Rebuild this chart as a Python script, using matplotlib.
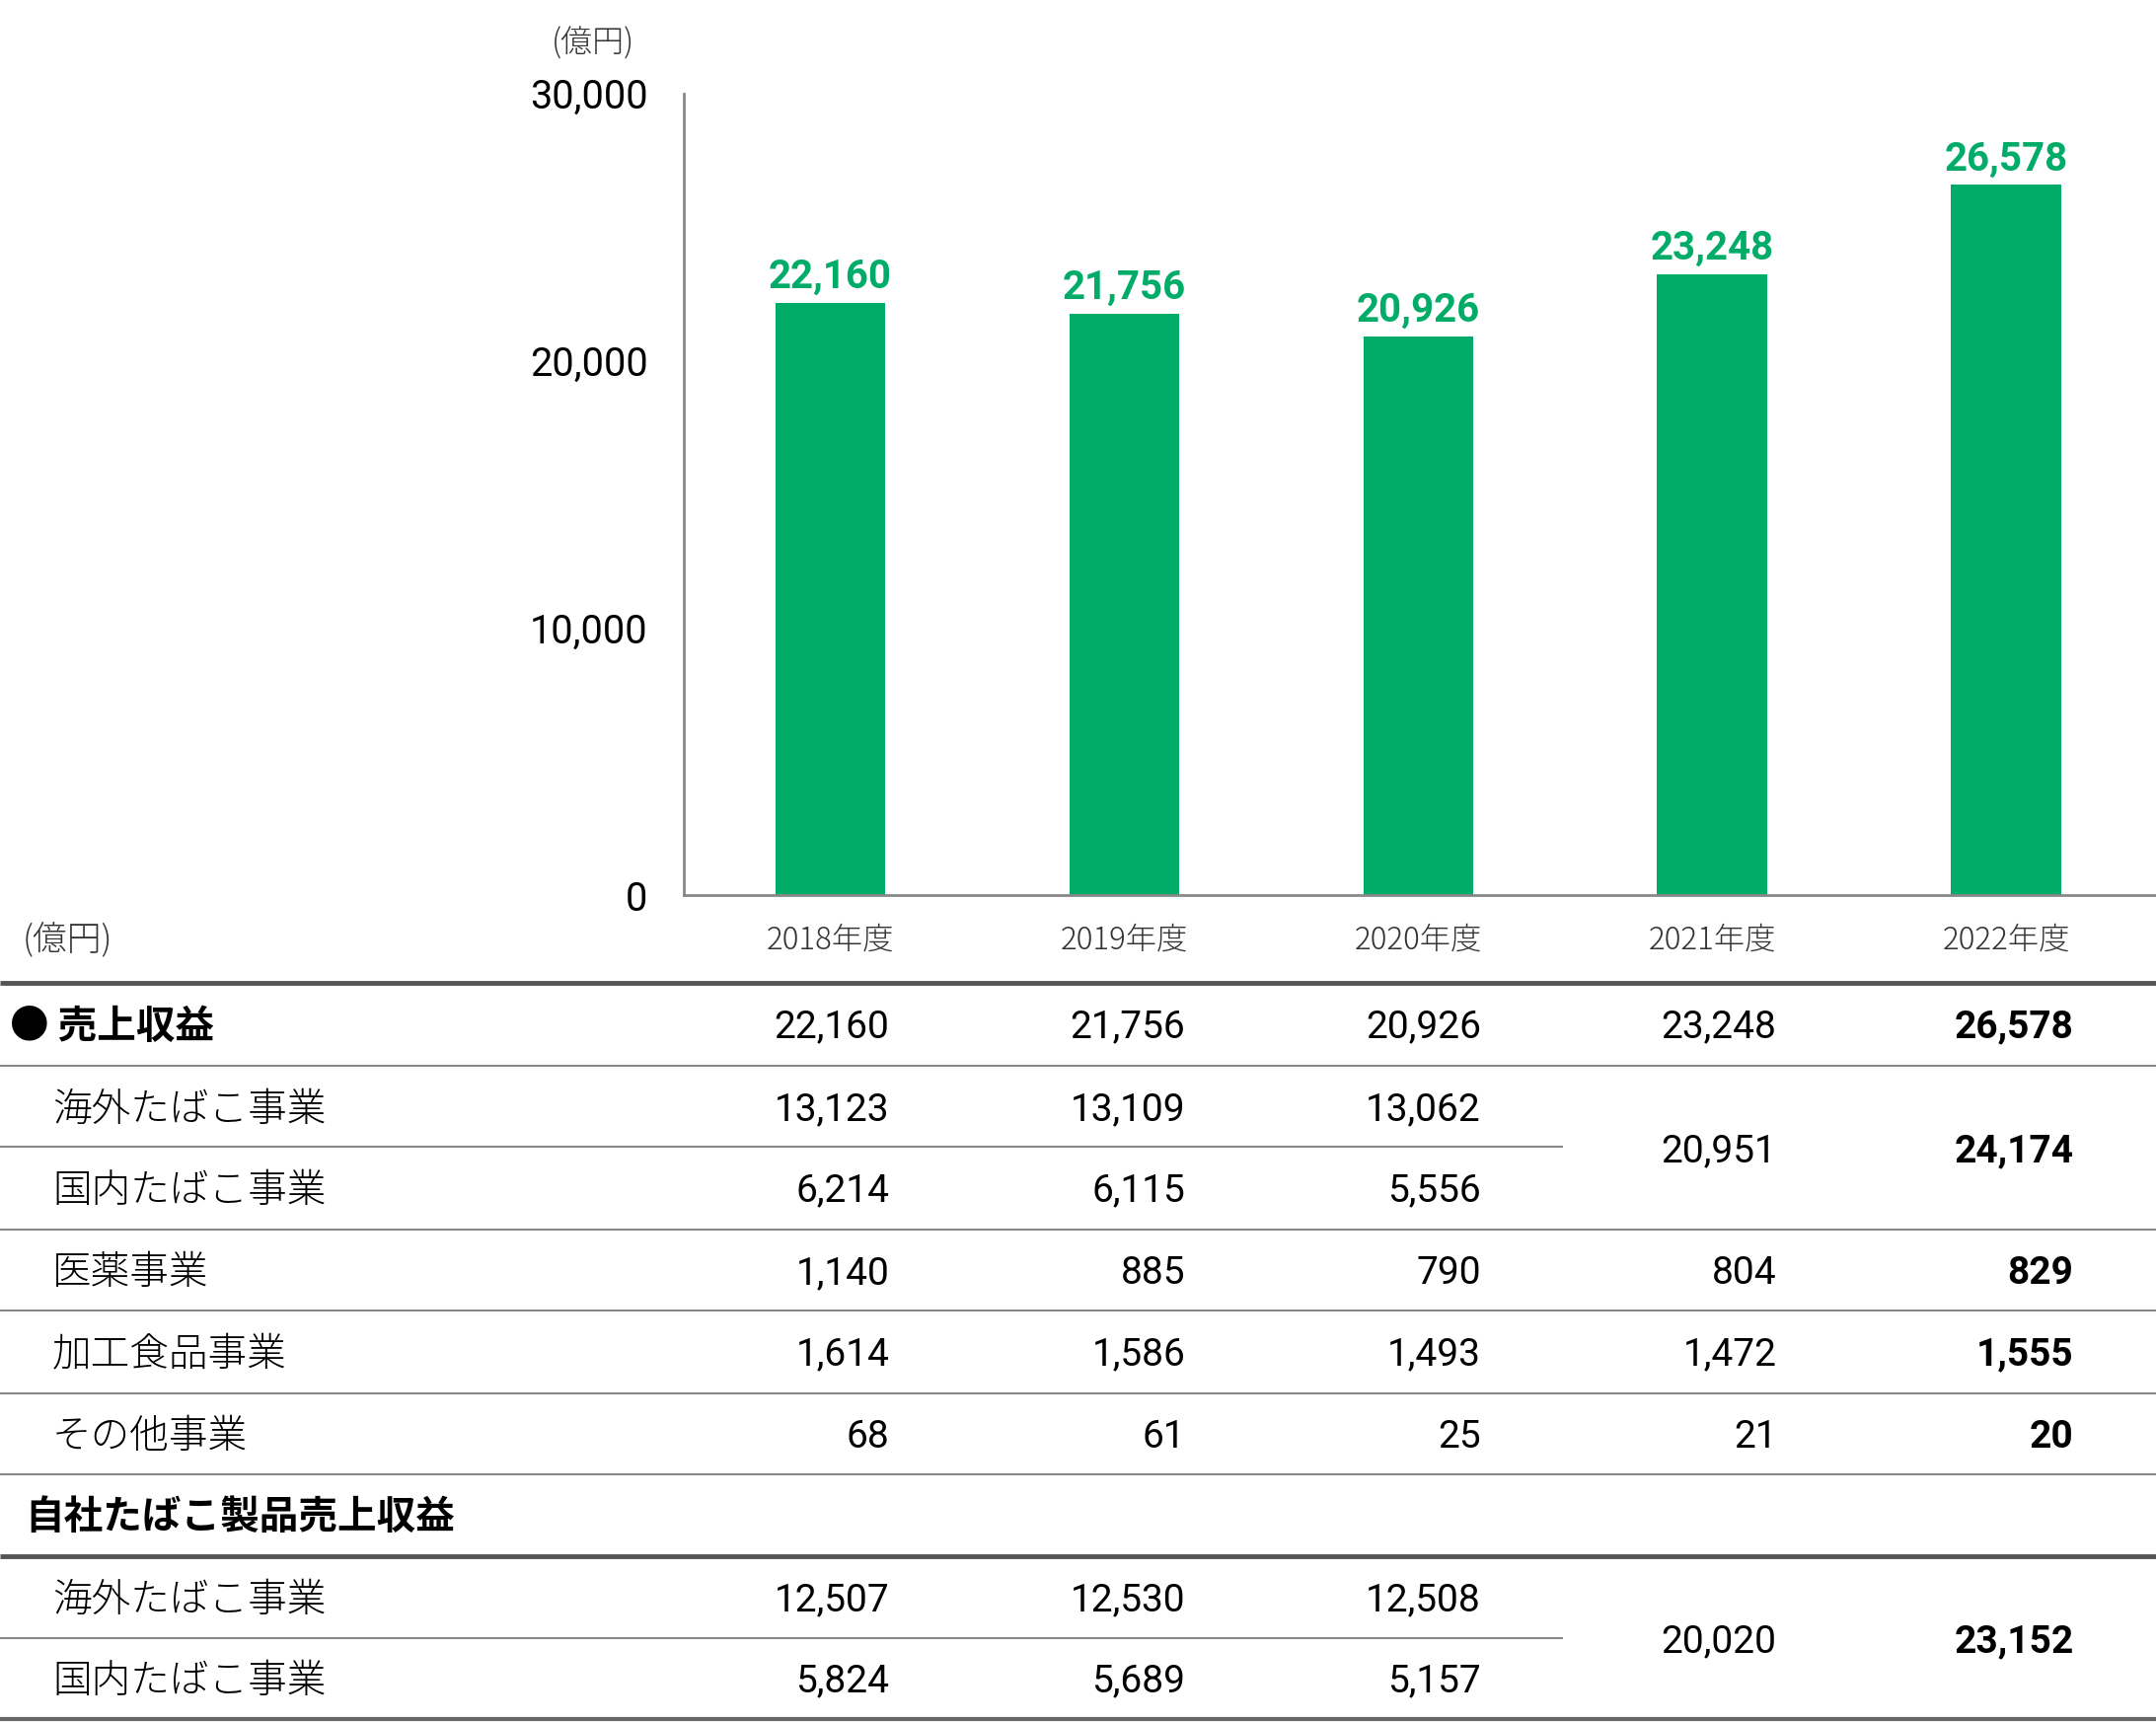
import matplotlib
matplotlib.use("Agg")
import matplotlib.pyplot as plt

# data
years = ["2018年度", "2019年度", "2020年度", "2021年度", "2022年度"]
revenue = [22160, 21756, 20926, 23248, 26578]

overseas = [13123, 13109, 13062]
domestic = [6214, 6115, 5556]
tobacco_merged = [20951, 24174]          # 2021, 2022 (海外+国内)
pharma = [1140, 885, 790, 804, 829]
food = [1614, 1586, 1493, 1472, 1555]
other = [68, 61, 25, 21, 20]
own_overseas = [12507, 12530, 12508]
own_domestic = [5824, 5689, 5157]
own_merged = [20020, 23152]

GREEN = "#00ac67"
JP = ["Noto Sans CJK JP", "DejaVu Sans"]
NUM = ["Roboto", "DejaVu Sans"]

W, H = 2185, 1745
S = W / 1568.0  # ref layout measured on 1568 wide view

fig = plt.figure(figsize=(W / 100, H / 100), dpi=100)

# ---- bar chart ----
ax = fig.add_axes([497 / 1568, 1 - 651 / 1252, 1 - 497 / 1568, (651 - 68) / 1252])
x = range(len(years))
ax.bar(x, revenue, width=0.374, color=GREEN, zorder=2)
for i, v in enumerate(revenue):
    ax.annotate(f"{v:,}", (i, v), xytext=(0, 5), textcoords="offset points",
                ha="center", va="bottom", color=GREEN, fontsize=29,
                fontweight="bold", family=NUM)
ax.set_xlim(-0.5, 4.51)
ax.set_ylim(0, 30000)
ax.set_yticks([0, 10000, 20000, 30000])
ax.set_yticklabels([f"{t:,}" for t in [0, 10000, 20000, 30000]], family=NUM, fontsize=28.5)
ax.set_xticks(list(x))
ax.set_xticklabels(years, family=JP, fontsize=22.5, fontweight="light", color="#333333")
ax.tick_params(axis="y", length=0, pad=26)
ax.tick_params(axis="x", length=0, pad=21)
for s in ["top", "right"]:
    ax.spines[s].set_visible(False)
for s in ["left", "bottom"]:
    ax.spines[s].set_color("#888888")
    ax.spines[s].set_linewidth(2)

# ---- table overlay (pixel coords) ----
tx = fig.add_axes([0, 0, 1, 1], zorder=-1)
tx.set_xlim(0, W)
tx.set_ylim(H, 0)
tx.axis("off")

def ytab(v):
    return v * S

def hline(y, x1=1568, lw=1.5, c="#888888"):
    tx.plot([0, x1 * S], [ytab(y), ytab(y)], color=c, lw=lw, solid_capstyle="butt")

fig.text(431 / 1568, 1 - 32 / 1252, "(億円)", family=JP, fontsize=23,
         fontweight="light", color="#333333", ha="center", va="center")
tx.text(16 * S, ytab(684), "(億円)", family=JP, fontsize=25, fontweight="light",
        color="#333333", ha="left", va="center")

col_x = [647, 862, 1077, 1292, 1508]

hline(715, lw=3.5, c="#555555")
for y in [775, 894, 953, 1013, 1072]:
    hline(y)
hline(834, x1=1137)
hline(1132, lw=3.5, c="#555555")
hline(1191, x1=1137)
hline(1250, lw=3, c="#666666")

def row_values(y, vals, start=0):
    for j, v in enumerate(vals):
        ci = start + j
        bold = ci == 4
        tx.text(col_x[ci] * S, ytab(y + 2), f"{v:,}", family=NUM, fontsize=28,
                fontweight="bold" if bold else "normal", ha="right", va="center")

def label(y, s, x0=38, bold=False):
    tx.text(x0 * S, ytab(y + 2), s, family=JP, fontsize=28.5,
            fontweight="bold" if bold else "light", ha="left", va="center")

label(745, "● 売上収益", x0=7, bold=True)
row_values(745, revenue)
label(805, "海外たばこ事業")
row_values(805, overseas)
label(864, "国内たばこ事業")
row_values(864, domestic)
row_values(835, tobacco_merged, start=3)
label(924, "医薬事業")
row_values(924, pharma)
label(983, "加工食品事業")
row_values(983, food)
label(1043, "その他事業")
row_values(1043, other)
label(1101, "自社たばこ製品売上収益", x0=18, bold=True)
label(1162, "海外たばこ事業")
row_values(1162, own_overseas)
label(1221, "国内たばこ事業")
row_values(1221, own_domestic)
row_values(1192, own_merged, start=3)

fig.savefig("out.png", dpi=100)
